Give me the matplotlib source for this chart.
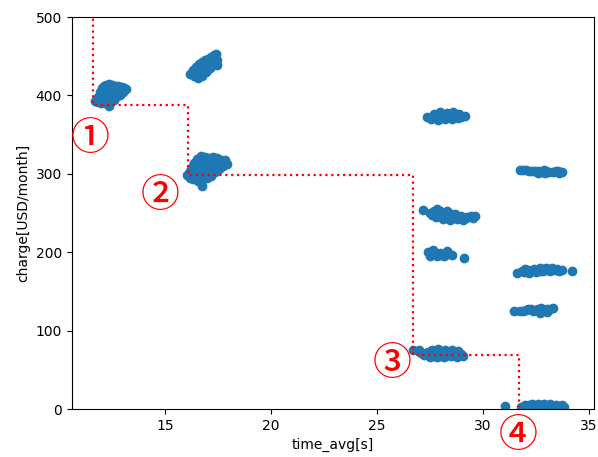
import matplotlib
matplotlib.use('Agg')
import matplotlib.pyplot as plt

# --- データ ---
# クラスタ① 付近
a_x = [11.71, 11.80, 11.90, 11.94, 12.04, 12.13, 12.23, 12.37, 12.51, 12.65, 12.79, 12.93, 13.08, 13.17,
       13.03, 12.89, 12.75, 12.56, 12.42, 12.37, 12.18, 11.99, 11.85, 12.09, 12.32, 12.51, 12.70, 12.23,
       12.46, 12.60, 12.84, 12.00, 12.20, 12.40, 12.60, 12.30, 12.50, 12.70, 12.90, 13.00, 12.10, 12.30,
       12.60]
a_y = [393, 397, 399, 404, 409, 412, 413, 414, 413, 412, 412, 409, 409, 408,
       404, 401, 399, 397, 392, 387, 390, 390, 391, 402, 404, 407, 406, 396,
       400, 404, 406, 398, 403, 408, 410, 395, 398, 402, 405, 411, 394, 410,
       394]

# 上側の斜めクラスタ
b_x = [16.17, 16.34, 16.48, 16.62, 16.76, 16.91, 17.05, 17.19, 17.33, 17.42, 17.47, 17.47, 17.28, 17.14,
       16.95, 16.76, 16.58, 16.39, 16.67, 16.91, 17.09, 17.28, 16.50, 16.70, 16.80, 17.00, 17.20, 17.00,
       17.35, 16.30, 16.55]
b_y = [427, 432, 436, 440, 442, 445, 447, 449, 451, 453, 445, 439, 439, 435,
       430, 425, 422, 425, 432, 436, 441, 445, 429, 428, 434, 439, 443, 432,
       448, 428, 437]

# クラスタ② 付近
c_x = [16.05, 16.19, 16.28, 16.38, 16.52, 16.71, 16.90, 17.08, 17.27, 17.46, 17.65, 17.84, 17.94, 17.75,
       17.56, 17.37, 17.18, 16.99, 16.80, 16.57, 16.75, 16.33, 16.19, 16.66, 16.90, 17.13, 17.37, 16.47,
       16.90, 16.40, 16.60, 16.80, 17.00, 17.20, 17.50, 17.70, 16.60, 16.80, 17.00, 17.20, 17.40, 16.40,
       16.90, 17.10, 17.60, 16.50]
c_y = [298, 304, 309, 314, 319, 323, 321, 320, 321, 320, 318, 318, 312, 310,
       306, 302, 297, 295, 293, 291, 284, 293, 295, 305, 309, 313, 313, 300,
       302, 303, 310, 316, 317, 316, 314, 314, 298, 300, 304, 306, 308, 296,
       296, 300, 309, 314]

# 27〜30秒のクラスタ
d_x = [27.37, 27.70, 27.98, 28.31, 28.60, 28.88, 29.16, 27.56, 27.89, 28.22, 28.55, 28.83, 27.55, 27.80,
       28.05, 28.40, 28.70, 29.00]
d_y = [372, 376, 379, 378, 379, 376, 374, 370, 369, 370, 370, 371, 373, 373,
       374, 374, 374, 372]

e_x = [27.19, 27.52, 27.85, 28.13, 28.41, 28.70, 28.98, 29.26, 29.55, 29.64, 27.80, 28.13, 28.46, 28.79,
       29.07, 27.60, 27.95, 28.30, 28.60, 28.90, 29.20, 29.45, 27.70, 28.00, 28.30]
e_y = [254, 250, 255, 250, 250, 249, 246, 245, 244, 246, 245, 242, 241, 242,
       241, 247, 248, 246, 245, 244, 243, 246, 252, 252, 253]

f_x = [27.42, 27.66, 27.98, 28.31, 28.55, 27.84, 28.17, 27.52, 29.10, 27.75, 28.05, 28.40, 27.55]
f_y = [200, 203, 199, 202, 196, 195, 195, 195, 193, 199, 197, 198, 198]

# クラスタ③ 付近
g_x = [26.71, 27.00, 27.33, 27.61, 27.89, 28.22, 28.55, 28.83, 28.97, 27.52, 27.85, 28.17, 28.50, 28.78,
       29.07, 27.24, 27.10, 27.40, 27.70, 28.00, 28.30, 28.60, 28.90, 27.70, 28.00, 28.35]
g_y = [75, 75, 71, 75, 77, 75, 75, 74, 70, 66, 66, 66, 68, 66,
       68, 69, 72, 73, 71, 71, 70, 71, 71, 67, 68, 69]

# 31〜34秒のクラスタ
h_x = [31.76, 32.04, 32.32, 32.61, 32.89, 33.13, 33.32, 32.94, 33.74, 33.55, 32.61, 32.20, 32.45, 32.75,
       33.00, 33.45, 33.60, 31.90]
h_y = [305, 305, 304, 304, 305, 302, 302, 301, 302, 304, 301, 303, 304, 302,
       303, 303, 301, 305]

i_x = [31.62, 31.85, 32.13, 32.42, 32.70, 32.98, 33.27, 33.50, 33.74, 33.17, 32.84, 32.51, 32.18, 34.21,
       31.95, 32.30, 32.60, 32.90, 33.10, 33.40, 33.60, 32.00, 32.70]
i_y = [174, 176, 177, 179, 180, 180, 180, 179, 177, 176, 176, 175, 174, 176,
       175, 176, 177, 178, 178, 177, 176, 178, 176]

j_x = [31.50, 31.76, 32.04, 32.28, 32.51, 32.75, 33.03, 33.31, 32.70, 33.03, 31.90, 32.15, 32.40, 32.60,
       32.90, 33.20]
j_y = [125, 125, 126, 128, 126, 129, 128, 129, 122, 124, 125, 127, 125, 127,
       126, 127]

# クラスタ④ 付近
k_x = [31.05, 31.83, 32.09, 32.33, 32.61, 32.89, 33.17, 33.46, 33.74, 33.83, 32.47, 33.03, 32.20, 32.75,
       33.30, 33.60, 32.00]
k_y = [4, 3, 4, 6, 6, 6, 6, 5, 5, 3, 3, 3, 5, 5,
       4, 4, 5]

# 赤い点線（階段）
step_x = [11.61, 16.08, 26.73, 31.71, 31.71]
step_y = [520, 388, 298, 69, 3]

# 丸数字ラベル
label_text = ['①', '②', '③', '④']
label_x = [11.48, 14.80, 25.74, 31.67]
label_y = [344, 272, 57, -34]

# --- 描画 ---
fig = plt.figure(figsize=(5.98, 4.57), dpi=100)
ax = fig.add_axes([0.12, 0.105, 0.8734, 0.8578])

all_x = a_x + b_x + c_x + d_x + e_x + f_x + g_x + h_x + i_x + j_x + k_x
all_y = a_y + b_y + c_y + d_y + e_y + f_y + g_y + h_y + i_y + j_y + k_y
ax.scatter(all_x, all_y, color='#1f77b4', s=36, zorder=2)

ax.step(step_x, step_y, where='pre', color='red', linestyle=':', linewidth=1.6, zorder=3)

for t, x, y in zip(label_text, label_x, label_y):
    ax.text(x, y, t, color='red', fontsize=28, fontweight='medium', ha='center', va='center',
            family=['Noto Sans CJK JP', 'DejaVu Sans'], clip_on=False, zorder=4)

ax.set_xlim(10.61, 35.26)
ax.set_ylim(0, 500)
ax.set_xticks([15, 20, 25, 30, 35])
ax.set_yticks([0, 100, 200, 300, 400, 500])
ax.set_xlabel('time_avg[s]')
ax.set_ylabel('charge[USD/month]')

fig.savefig('out.png', dpi=100)
